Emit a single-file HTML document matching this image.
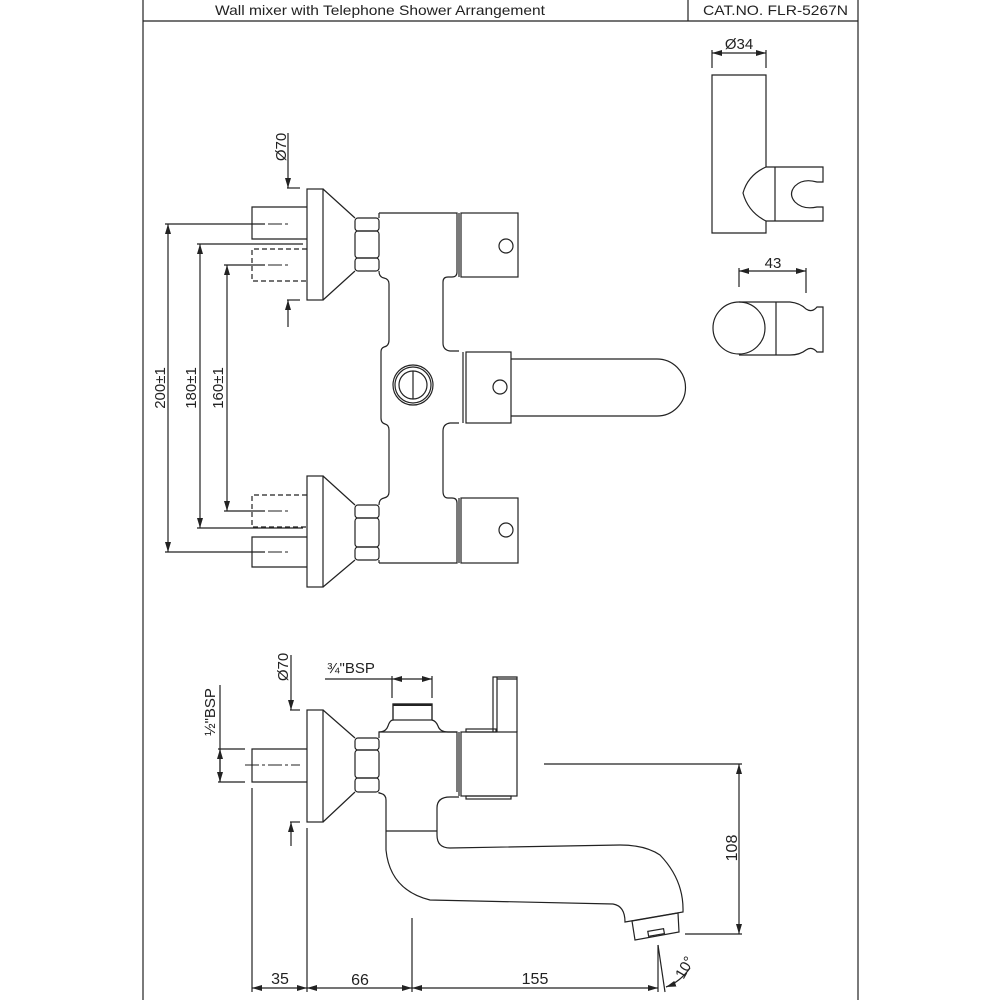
<!DOCTYPE html>
<html><head><meta charset="utf-8"><style>
html,body{margin:0;padding:0;background:#fff}
svg{display:block}
text{font-family:"Liberation Sans",Arial,sans-serif;fill:#222}
</style></head><body>
<svg width="1000" height="1000" viewBox="0 0 1000 1000" xmlns="http://www.w3.org/2000/svg">
<defs>
<marker id="a" viewBox="0 0 10 6" refX="10" refY="3" markerWidth="10" markerHeight="6" orient="auto-start-reverse" markerUnits="userSpaceOnUse"><path d="M0,0 L10,3 L0,6 z" fill="#222"/></marker>
</defs>
<g fill="none" stroke="#222" stroke-width="1.2">
<line x1="143" y1="0" x2="143" y2="1000"/>
<line x1="858" y1="0" x2="858" y2="1000"/>
<line x1="143" y1="21" x2="858" y2="21"/>
<line x1="688" y1="0" x2="688" y2="21"/>

<line x1="288" y1="133" x2="288" y2="188" marker-end="url(#a)"/>
<line x1="287" y1="188" x2="300" y2="188"/>
<line x1="288" y1="327" x2="288" y2="300" marker-end="url(#a)"/>
<line x1="287" y1="300" x2="300" y2="300"/>
<rect x="307" y="189" width="16" height="111"/>
<path d="M323,189 L355,218 M323,300 L355,271"/>
<rect x="355" y="218" width="24" height="13" rx="3"/>
<rect x="355" y="231" width="24" height="27" rx="3"/>
<rect x="355" y="258" width="24" height="13" rx="3"/>
<rect x="307" y="476" width="16" height="111"/>
<path d="M323,476 L355,505 M323,587 L355,560"/>
<rect x="355" y="505" width="24" height="13" rx="3"/>
<rect x="355" y="518" width="24" height="29" rx="3"/>
<rect x="355" y="547" width="24" height="13" rx="3"/>
<path d="M307,207 L252,207 L252,239 L307,239"/>
<path d="M307,537 L252,537 L252,567 L307,567"/>
<path d="M307,249 L252,249 L252,281 L307,281" stroke-dasharray="5,3"/>
<path d="M307,495 L252,495 L252,527 L307,527" stroke-dasharray="5,3"/>
<path d="M379,213 L457,213 L457,272 Q457,277 452,277 L448,277 Q443,277 443,282 L443,343 Q443,350 450,351 L459,351 M459,423 L450,423 Q443,424 443,431 L443,491 Q443,498 448,498 L452,498 Q457,498 457,503 L457,563 L379,563 M379,271 Q379,277 384,278 Q389,279 389,284 L389,340 Q389,346 384,347 Q381,348 381,352 L381,418 Q381,423 385,424 Q389,425 389,430 L389,492 Q389,497 384,498 Q379,499 379,505 M379,213 L379,218 M379,560 L379,563"/>
<line x1="459" y1="213" x2="459" y2="277"/>
<line x1="459" y1="498" x2="459" y2="563"/>
<line x1="463" y1="352" x2="463" y2="423"/>
<rect x="461" y="213" width="57" height="64"/>
<circle cx="506" cy="246" r="7"/>
<rect x="461" y="498" width="57" height="65"/>
<circle cx="506" cy="530" r="7"/>
<circle cx="413" cy="385" r="20"/>
<circle cx="413" cy="385" r="18"/>
<circle cx="413" cy="385" r="14"/>
<line x1="413" y1="371" x2="413" y2="399"/>
<rect x="466" y="352" width="45" height="71"/>
<circle cx="500" cy="387" r="7"/>
<path d="M511,359 L657,359 A28.5,28.5 0 0 1 657,416 L511,416"/>
<line x1="165" y1="224" x2="265" y2="224"/>
<line x1="165" y1="552" x2="265" y2="552"/>
<line x1="168" y1="224" x2="168" y2="552" marker-start="url(#a)" marker-end="url(#a)"/>
<line x1="197" y1="244" x2="303" y2="244"/>
<line x1="197" y1="528" x2="303" y2="528"/>
<line x1="200" y1="244" x2="200" y2="528" marker-start="url(#a)" marker-end="url(#a)"/>
<line x1="224" y1="265" x2="265" y2="265"/>
<line x1="224" y1="511" x2="265" y2="511"/>
<line x1="227" y1="265" x2="227" y2="511" marker-start="url(#a)" marker-end="url(#a)"/>
<g stroke-dasharray="14,3,3,3" stroke-width="1">
<line x1="245" y1="224" x2="290" y2="224"/>
<line x1="245" y1="265" x2="290" y2="265"/>
<line x1="245" y1="511" x2="290" y2="511"/>
<line x1="245" y1="552" x2="290" y2="552"/>
</g>

<line x1="712" y1="53" x2="766" y2="53" marker-start="url(#a)" marker-end="url(#a)"/>
<line x1="712" y1="50" x2="712" y2="68"/>
<line x1="766" y1="50" x2="766" y2="68"/>
<path d="M766,167 L766,75 L712,75 L712,233 L766,233 L766,221"/>
<path d="M766,167 Q748,175 743,193 Q748,212 766,221"/>
<path d="M766,167 L823,167 L823,182 L817,182 Q803,178 795,186 Q788,194 795,202 Q803,210 817,207 L823,207 L823,221 L766,221"/>
<line x1="775" y1="167" x2="775" y2="221"/>
<line x1="739" y1="271" x2="806" y2="271" marker-start="url(#a)" marker-end="url(#a)"/>
<line x1="739" y1="268" x2="739" y2="287"/>
<line x1="806" y1="268" x2="806" y2="293"/>
<circle cx="739" cy="328" r="26"/>
<path d="M739,302 L790,302 Q800,303 806,309 Q812,313 817,307 L823,307 L823,352 L817,352 Q812,346 806,350 Q800,355 790,355 L739,355"/>
<line x1="776" y1="302" x2="776" y2="355"/>

<line x1="291" y1="655" x2="291" y2="710" marker-end="url(#a)"/>
<line x1="290" y1="710" x2="300" y2="710"/>
<line x1="291" y1="846" x2="291" y2="822" marker-end="url(#a)"/>
<line x1="290" y1="822" x2="300" y2="822"/>
<rect x="307" y="710" width="16" height="112"/>
<path d="M323,710 L355,738 M323,822 L355,792"/>
<rect x="355" y="738" width="24" height="12" rx="3"/>
<rect x="355" y="750" width="24" height="28" rx="3"/>
<rect x="355" y="778" width="24" height="14" rx="3"/>
<path d="M307,749 L252,749 L252,782 L307,782"/>
<line x1="245" y1="765" x2="300" y2="765" stroke-dasharray="14,3,3,3" stroke-width="1"/>
<line x1="220" y1="685" x2="220" y2="749" />
<line x1="220" y1="782" x2="220" y2="749" marker-end="url(#a)"/>
<line x1="220" y1="749" x2="220" y2="782" marker-end="url(#a)"/>
<line x1="218" y1="749" x2="245" y2="749"/>
<line x1="218" y1="782" x2="245" y2="782"/>
<path d="M379,738 L379,732 Q386,732 388,726 Q390,720 393,720 L393,704 L432,704 L432,720 Q436,721 438,726 Q440,732 448,732 L457,732 L457,792"/>
<rect x="393" y="704" width="39" height="16" fill="none"/>
<line x1="393" y1="705" x2="432" y2="705" stroke-width="2"/>
<line x1="379" y1="732" x2="457" y2="732"/>
<path d="M379,792 L379,793 Q386,794 386,800 L386,850 Q390,890 430,900 L613,904 Q625,906 625,922 L683,912 Q684,880 660,855 Q645,845 620,845 L450,848 Q437,848 437,835 L437,808 Q437,797 450,797 L459,797"/>
<line x1="386" y1="831" x2="437" y2="831"/>
<path d="M632,921 L678,913 L679,932 L635,940 Z"/>
<rect x="648" y="930" width="16" height="5" transform="rotate(-10 656 932)"/>
<line x1="459" y1="732" x2="459" y2="796"/>
<rect x="461" y="732" width="56" height="64"/>
<rect x="466" y="796" width="45" height="3"/>
<rect x="466" y="729" width="30" height="3"/>
<path d="M493,732 L493,677 L517,677 L517,732"/>
<line x1="497" y1="677" x2="497" y2="732"/>
<line x1="497" y1="679" x2="517" y2="679"/>
<line x1="325" y1="679" x2="392" y2="679"/>
<line x1="392" y1="679" x2="432" y2="679" marker-start="url(#a)" marker-end="url(#a)"/>
<line x1="392" y1="676" x2="392" y2="698"/>
<line x1="432" y1="676" x2="432" y2="698"/>
<line x1="544" y1="764" x2="742" y2="764"/>
<line x1="685" y1="934" x2="742" y2="934"/>
<line x1="739" y1="764" x2="739" y2="934" marker-start="url(#a)" marker-end="url(#a)"/>
<line x1="252" y1="788" x2="252" y2="992"/>
<line x1="307" y1="828" x2="307" y2="992"/>
<line x1="412" y1="918" x2="412" y2="992"/>
<line x1="658" y1="945" x2="658" y2="992"/>
<line x1="658" y1="945" x2="665" y2="992"/>
<line x1="252" y1="988" x2="307" y2="988" marker-start="url(#a)" marker-end="url(#a)"/>
<line x1="307" y1="988" x2="412" y2="988" marker-start="url(#a)" marker-end="url(#a)"/>
<line x1="412" y1="988" x2="658" y2="988" marker-start="url(#a)" marker-end="url(#a)"/>
<path d="M666,987 Q680,982 690,968" marker-start="url(#a)"/>
</g>

<text x="215" y="15" font-size="14" textLength="330" lengthAdjust="spacingAndGlyphs">Wall mixer with Telephone Shower Arrangement</text>
<text x="703" y="15" font-size="14" textLength="145" lengthAdjust="spacingAndGlyphs">CAT.NO. FLR-5267N</text>
<text x="739" y="49" font-size="15" text-anchor="middle">Ø34</text>
<text x="773" y="268" font-size="15" text-anchor="middle">43</text>
<text transform="translate(286,147) rotate(-90)" font-size="15" text-anchor="middle">Ø70</text>
<text transform="translate(165,388) rotate(-90)" font-size="15" text-anchor="middle">200±1</text>
<text transform="translate(196,388) rotate(-90)" font-size="15" text-anchor="middle">180±1</text>
<text transform="translate(223,388) rotate(-90)" font-size="15" text-anchor="middle">160±1</text>
<text transform="translate(288,667) rotate(-90)" font-size="15" text-anchor="middle">Ø70</text>
<text transform="translate(215,712) rotate(-90)" font-size="15" text-anchor="middle">½"BSP</text>
<text x="327" y="673" font-size="15">¾"BSP</text>
<text transform="translate(737,848) rotate(-90)" font-size="16" text-anchor="middle">108</text>
<text x="280" y="984" font-size="16" text-anchor="middle">35</text>
<text x="360" y="985" font-size="16" text-anchor="middle">66</text>
<text x="535" y="984" font-size="16" text-anchor="middle">155</text>
<text transform="translate(689,970) rotate(-60)" font-size="15" text-anchor="middle">10°</text>
</svg>
</body></html>
